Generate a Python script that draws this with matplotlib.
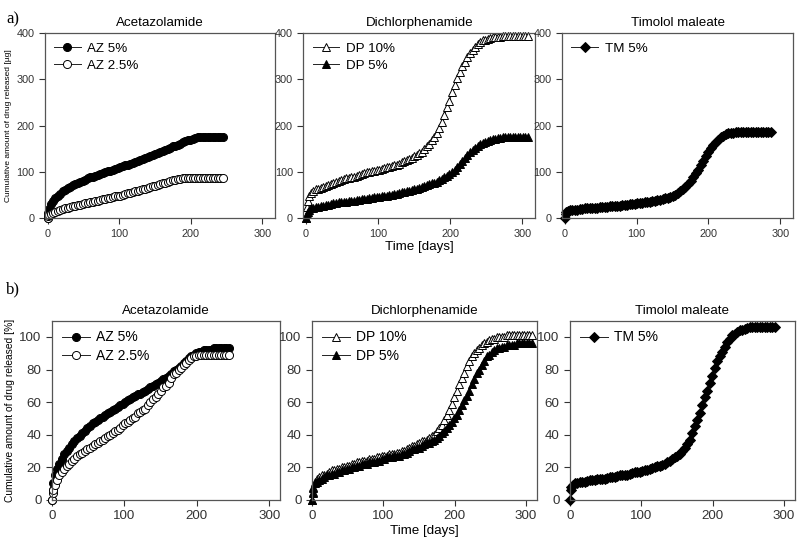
import matplotlib
matplotlib.use("Agg")
import matplotlib.pyplot as plt

plt.rcParams['font.family'] = ['Liberation Sans', 'DejaVu Sans']

# sampling days (twice a week)
days_dp = [0, 1, 2, 4,
           7, 10, 14, 17, 21, 24, 28, 31, 35, 38,
           42, 45, 49, 52, 56, 59, 63, 66, 70, 73,
           77, 80, 84, 87, 91, 94, 98, 101, 105, 108,
           112, 115, 119, 122, 126, 129, 133, 136, 140, 143,
           147, 150, 154, 157, 161, 164, 168, 171, 175, 178,
           182, 185, 189, 192, 196, 199, 203, 206, 210, 213,
           217, 220, 224, 227, 231, 234, 238, 241,
           245, 248, 252, 255, 259, 262, 266, 269, 273, 276,
           280, 283, 287, 290, 294, 297, 301, 304, 308]
days_az = days_dp[:73]
days_tm = days_dp[:85]

# a) cumulative amount [ug]
az5_ug = [0, 12, 20, 30,
          38, 43, 48, 53, 58, 61, 65, 68, 71, 73,
          76, 78, 81, 83, 86, 88, 90, 92, 94, 96,
          98, 100, 102, 103, 105, 107, 109, 110, 112, 114,
          116, 118, 120, 122, 124, 126, 128, 130, 132, 134,
          136, 138, 140, 142, 145, 147, 149, 152, 155, 157,
          159, 161, 164, 166, 169, 170, 172, 174, 175, 175,
          175, 175, 175, 175, 175, 175, 175, 175,
          175]
az25_ug = [0, 4, 7, 10,
           12, 14, 16, 18, 20, 21, 23, 24, 26, 27,
           28, 29, 31, 32, 33, 35, 36, 37, 38, 40,
           41, 42, 43, 44, 46, 47, 48, 49, 51, 52,
           54, 55, 57, 58, 59, 61, 63, 64, 66, 67,
           69, 70, 72, 74, 76, 77, 79, 81, 82, 83,
           84, 85, 86, 86, 87, 87, 87, 87, 87, 87,
           87, 87, 87, 87, 87, 87, 87, 87,
           87]
dp10_ug = [0, 25, 38, 48,
           55, 58, 62, 64, 66, 68, 70, 72, 74, 76,
           78, 80, 82, 84, 86, 87, 89, 90, 92, 94,
           96, 97, 99, 100, 101, 102, 104, 105, 107, 108,
           110, 111, 113, 114, 116, 118, 121, 123, 125, 128,
           131, 134, 137, 140, 144, 149, 155, 161, 168, 175,
           185, 195, 208, 222, 240, 254, 273, 287, 303, 315,
           329, 338, 349, 357, 364, 370, 376, 380,
           384, 386, 388, 390, 391, 391, 392, 392, 393, 393,
           393, 393, 393, 393, 393, 393, 393, 393, 393]
dp5_ug = [0, 8, 13, 18,
          21, 23, 24, 25, 26, 27, 28, 29, 31, 32,
          33, 34, 35, 35, 36, 37, 38, 38, 39, 40,
          41, 41, 42, 43, 44, 45, 46, 46, 47, 48,
          49, 50, 51, 52, 53, 54, 56, 57, 58, 59,
          61, 62, 64, 65, 67, 69, 71, 73, 75, 77,
          79, 82, 85, 88, 92, 96, 100, 105, 111, 117,
          124, 130, 137, 142, 148, 152, 157, 160,
          163, 165, 167, 169, 171, 172, 173, 174, 175, 175,
          176, 176, 176, 176, 176, 176, 176, 176, 176]
tm5_ug = [0, 10, 14, 16,
          17, 17, 18, 18, 19, 20, 21, 21, 22, 22,
          23, 23, 24, 24, 25, 25, 26, 26, 27, 27,
          27, 28, 29, 29, 30, 30, 31, 32, 33, 33,
          34, 35, 36, 37, 38, 39, 40, 41, 43, 44,
          46, 48, 51, 54, 58, 62, 68, 74, 81, 88,
          97, 105, 115, 123, 134, 142, 151, 158, 165, 170,
          175, 178, 181, 183, 184, 185, 186, 186,
          187, 187, 187, 187, 187, 187, 187, 187, 187, 187,
          187, 187, 187]

# b) cumulative amount [%]
az5_pc = [0, 6, 10, 15,
          19, 22, 25, 28, 30, 32, 34, 36, 38, 39,
          41, 42, 44, 45, 47, 48, 49, 50, 51, 52,
          53, 54, 55, 56, 57, 58, 59, 60, 61, 62,
          63, 64, 65, 65, 66, 67, 68, 69, 70, 71,
          72, 73, 74, 75, 76, 77, 79, 80, 81, 82,
          84, 85, 87, 88, 89, 90, 91, 91, 92, 92,
          92, 92, 93, 93, 93, 93, 93, 93,
          93]
az25_pc = [0, 4, 6, 9,
           12, 15, 17, 19, 21, 22, 24, 25, 27, 28,
           29, 30, 31, 32, 33, 34, 35, 36, 37, 38,
           39, 40, 41, 42, 43, 44, 46, 47, 48, 49,
           50, 51, 53, 54, 55, 56, 58, 60, 62, 63,
           65, 67, 69, 70, 72, 75, 77, 78, 80, 81,
           83, 84, 86, 87, 88, 88, 89, 89, 89, 89,
           89, 89, 89, 89, 89, 89, 89, 89,
           89]
dp10_pc = [0, 5, 8, 11,
           13, 14, 15, 15, 16, 17, 18, 18, 19, 19,
           20, 20, 21, 21, 22, 22, 23, 23, 24, 24,
           24, 25, 25, 25, 26, 26, 27, 27, 27, 28,
           28, 28, 29, 29, 30, 30, 31, 32, 33, 33,
           34, 35, 36, 36, 37, 38, 39, 40, 42, 44,
           46, 49, 52, 55, 59, 63, 67, 71, 75, 78,
           82, 85, 88, 90, 92, 93, 95, 96,
           97, 98, 99, 99, 100, 100, 100, 100, 101, 101,
           101, 101, 101, 101, 101, 101, 101, 101, 101]
dp5_pc = [0, 4, 7, 10,
          11, 12, 13, 14, 15, 15, 16, 16, 17, 17,
          18, 18, 19, 19, 20, 20, 21, 21, 22, 22,
          22, 23, 23, 23, 24, 24, 25, 25, 26, 26,
          26, 27, 27, 27, 28, 28, 29, 30, 31, 31,
          32, 32, 33, 34, 35, 35, 36, 37, 38, 39,
          41, 42, 44, 46, 48, 50, 52, 55, 58, 61,
          64, 67, 71, 74, 78, 80, 83, 85,
          88, 89, 91, 92, 93, 93, 94, 94, 95, 95,
          95, 95, 96, 96, 96, 96, 96, 96, 96]
tm5_pc = [0, 6, 8, 9,
          10, 10.5, 11, 11, 11, 11.5, 12, 12, 12, 12.5,
          13, 13, 13, 13.5, 14, 14, 14, 14.5, 15, 15,
          15, 15.5, 16, 16.5, 17, 17, 17, 17.5, 18, 18.5,
          19, 19.5, 20, 20.5, 21, 21.5, 22, 23, 24, 25,
          26, 27, 28, 30, 32, 34, 37, 41, 45, 49,
          53, 58, 63, 67, 72, 76, 81, 85, 88, 91,
          94, 97, 99, 101, 102, 103, 104, 104.5,
          105, 105.5, 106, 106, 106, 106, 106, 106, 106, 106,
          106, 106, 106]

titles = ["Acetazolamide", "Dichlorphenamide", "Timolol maleate"]

fig = plt.figure(figsize=(8, 5.51), dpi=100)

pos_top = [[0.056, 0.604, 0.288, 0.336],
           [0.379, 0.604, 0.290, 0.336],
           [0.7025, 0.604, 0.289, 0.336]]
pos_bot = [[0.065, 0.093, 0.285, 0.325],
           [0.390, 0.093, 0.281, 0.325],
           [0.7125, 0.093, 0.281, 0.325]]

msize = {"o": 5.8, "^": 5.6, "D": 5.0}


def draw(ax, x, y, marker, filled, label):
    ax.plot(x, y, color="#222222", linewidth=0.7, marker=marker,
            markersize=msize[marker],
            markerfacecolor="black" if filled else "white",
            markeredgecolor="black", markeredgewidth=0.7, label=label,
            clip_on=False)


def style(ax, title, ylim, xlim, fs, lfs):
    ax.set_title(title, fontsize=9.6, pad=5)
    ax.set_xlim(*xlim)
    ax.set_ylim(*ylim)
    ax.set_xticks([0, 100, 200, 300])
    ax.tick_params(direction="out", length=4, width=0.8, labelsize=fs,
                   colors="#333333", top=False, right=False)
    for s in ax.spines.values():
        s.set_color("#555555")
        s.set_linewidth(0.9)
    ax.legend(loc="upper left", frameon=False, fontsize=lfs, handlelength=2.0,
              handletextpad=0.5, borderaxespad=0.3, labelspacing=0.35)


# top row
axs = [fig.add_axes(p) for p in pos_top]
draw(axs[0], days_az, az5_ug, "o", True, "AZ 5%")
draw(axs[0], days_az, az25_ug, "o", False, "AZ 2.5%")
draw(axs[1], days_dp, dp10_ug, "^", False, "DP 10%")
draw(axs[1], days_dp, dp5_ug, "^", True, "DP 5%")
draw(axs[2], days_tm, tm5_ug, "D", True, "TM 5%")
for i, ax in enumerate(axs):
    style(ax, titles[i], (0, 400), (-4, 318), 7.8, 9.6)
    ax.set_yticks([0, 100, 200, 300, 400])
axs[0].set_ylabel("Cumulative amount of drug released [µg]", fontsize=6, labelpad=3)
axs[1].set_xlabel("Time [days]", fontsize=9.6, labelpad=2)

# bottom row
bxs = [fig.add_axes(p) for p in pos_bot]
draw(bxs[0], days_az, az5_pc, "o", True, "AZ 5%")
draw(bxs[0], days_az, az25_pc, "o", False, "AZ 2.5%")
draw(bxs[1], days_dp, dp10_pc, "^", False, "DP 10%")
draw(bxs[1], days_dp, dp5_pc, "^", True, "DP 5%")
draw(bxs[2], days_tm, tm5_pc, "D", True, "TM 5%")
for i, ax in enumerate(bxs):
    style(ax, titles[i], (0, 110), (0, 315), 9.6, 10)
    ax.set_yticks([0, 20, 40, 60, 80, 100])
bxs[0].set_ylabel("Cumulative amount of drug released [%]", fontsize=7.4, labelpad=3)
bxs[1].set_xlabel("Time [days]", fontsize=9.6, labelpad=2)

fig.text(0.008, 0.965, "a)", fontsize=12, family="Liberation Serif", va="center")
fig.text(0.008, 0.475, "b)", fontsize=12, family="Liberation Serif", va="center")

fig.savefig("out.png", dpi=100)
